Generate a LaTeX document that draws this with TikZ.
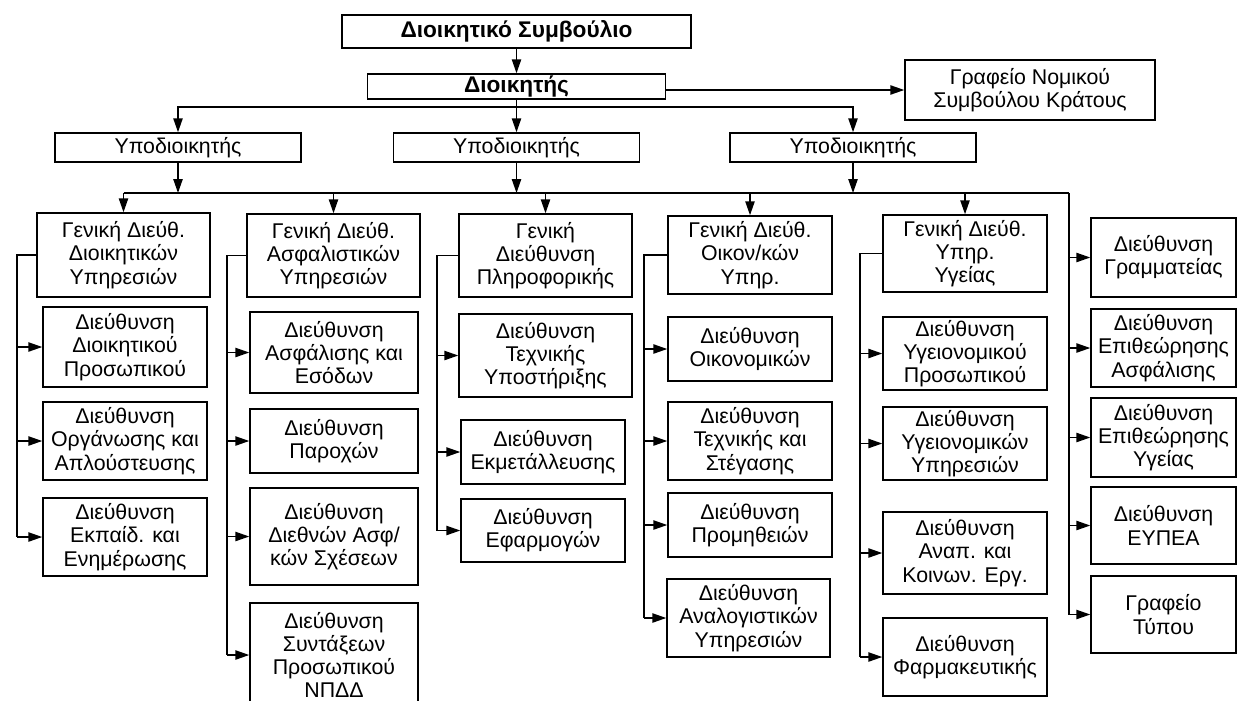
\documentclass[tikz,border=0pt]{standalone}
\usepackage{fontspec}
\setmainfont{Liberation Sans}
\usetikzlibrary{arrows.meta}

\begin{document}
\begin{tikzpicture}[x=0.75pt,y=-0.75pt,line width=1.1pt,
    box/.style={draw,align=center,inner sep=0pt,font=\fontsize{16}{17.4}\selectfont},
    head/.style={box,font=\fontsize{17}{18}\selectfont\bfseries},
    wh/.style 2 args={minimum width=#1*0.75pt,minimum height=#2*0.75pt},
    arr/.style={-{Triangle[length=10.5pt,width=7pt]}}]
                \useasboundingbox (0,0) rectangle (1237,700);
                \clip (0,0) rectangle (1237,700);

                % top levels
                \node[head,wh={349}{33}] (ds) at (516.5,31.5) {Διοικητικό Συμβούλιο};
                \node[head,wh={298}{25}] (dir) at (516.5,86.5) {Διοικητής};
                \node[box,wh={250}{60}] (nom) at (1030,90) {Γραφείο Νομικού\\Συμβούλου Κράτους};
                \node[box,wh={246}{29}] (ud1) at (178,147.5) {Υποδιοικητής};
                \node[box,wh={246}{29}] (ud2) at (516.5,147.5) {Υποδιοικητής};
                \node[box,wh={246}{29}] (ud3) at (853,147.5) {Υποδιοικητής};

                % first column
                \node[box,wh={173}{84}] (gd1) at (123.5,255) {Γενική Διεύθ.\\Διοικητικών\\Υπηρεσιών};
                \node[box,wh={164}{80}] (d11) at (125,347) {Διεύθυνση\\Διοικητικού\\Προσωπικού};
                \node[box,wh={164}{78}] (d12) at (125,441) {Διεύθυνση\\Οργάνωσης και\\Απλούστευσης};
                \node[box,wh={164}{78}] (d13) at (125,537) {Διεύθυνση\\Εκπαίδ. και\\Ενημέρωσης};

                % second column
                \node[box,wh={173}{83}] (gd2) at (333.5,255.5) {Γενική Διεύθ.\\Ασφαλιστικών\\Υπηρεσιών};
                \node[box,wh={168}{81}] (d21) at (334,352.5) {Διεύθυνση\\Ασφάλισης και\\Εσόδων};
                \node[box,wh={168}{64}] (d22) at (334,441) {Διεύθυνση\\Παροχών};
                \node[box,wh={168}{97}] (d23) at (334,536.5) {Διεύθυνση\\Διεθνών Ασφ/\\κών Σχέσεων};
                \node[box,wh={168}{104}] (d24) at (334,655) {Διεύθυνση\\Συντάξεων\\Προσωπικού\\ΝΠΔΔ};

                % third column
                \node[box,wh={173}{83}] (gd3) at (545.5,255.5) {Γενική\\Διεύθυνση\\Πληροφορικής};
                \node[box,wh={173}{83}] (d31) at (545.5,355.5) {Διεύθυνση\\Τεχνικής\\Υποστήριξης};
                \node[box,wh={164}{64}] (d32) at (543,452) {Διεύθυνση\\Εκμετάλλευσης};
                \node[box,wh={164}{63}] (d33) at (543,530.5) {Διεύθυνση\\Εφαρμογών};

                % fourth column
                \node[box,wh={164}{78}] (gd4) at (750,255) {Γενική Διεύθ.\\Οικον/κών\\Υπηρ.};
                \node[box,wh={164}{64}] (d41) at (750,349) {Διεύθυνση\\Οικονομικών};
                \node[box,wh={164}{78}] (d42) at (750,441) {Διεύθυνση\\Τεχνικής και\\Στέγασης};
                \node[box,wh={164}{64}] (d43) at (750,525) {Διεύθυνση\\Προμηθειών};
                \node[box,wh={163}{78}] (d44) at (748.5,618) {Διεύθυνση\\Αναλογιστικών\\Υπηρεσιών};

                % fifth column
                \node[box,wh={164}{77}] (gd5) at (965,253.5) {Γενική Διεύθ.\\Υπηρ.\\Υγείας};
                \node[box,wh={164}{73}] (d51) at (965,353.5) {Διεύθυνση\\Υγειονομικού\\Προσωπικού};
                \node[box,wh={164}{73}] (d52) at (965,443.5) {Διεύθυνση\\Υγειονομικών\\Υπηρεσιών};
                \node[box,wh={164}{82}] (d53) at (965,553) {Διεύθυνση\\Αναπ. και\\Κοινων. Εργ.};
                \node[box,wh={164}{78}] (d54) at (965,657) {Διεύθυνση\\Φαρμακευτικής};

                % right column
                \node[box,wh={145}{79}] (d61) at (1163.5,257.5) {Διεύθυνση\\Γραμματείας};
                \node[box,wh={145}{78}] (d62) at (1163.5,348) {Διεύθυνση\\Επιθεώρησης\\Ασφάλισης};
                \node[box,wh={145}{79}] (d63) at (1163.5,437.5) {Διεύθυνση\\Επιθεώρησης\\Υγείας};
                \node[box,wh={145}{77}] (d64) at (1163.5,525.5) {Διεύθυνση\\ΕΥΠΕΑ};
                \node[box,wh={145}{77}] (d65) at (1163.5,614.5) {Γραφείο\\Τύπου};

                % bus lines and spines
                \coordinate (b1) at (516.5,107);
                \coordinate (b2w) at (123.5,193);
                \coordinate (b2e) at (1069,193);
                \coordinate (s1) at (17,537);
                \coordinate (s2) at (227,655);
                \coordinate (s3) at (437,530.5);
                \coordinate (s4) at (644,618);
                \coordinate (s5) at (860,657);
                \coordinate (s6) at (1069,614.5);

                \draw[arr] (ds) -- (dir);
                \draw[arr] (dir.east |- nom.west) -- (nom.west);
                \draw[arr] (dir) -- (ud2);
                \draw[arr] (b1) -| (ud1);
                \draw[arr] (b1) -| (ud3);
                \draw[arr] (ud1) -- (ud1 |- b2w);
                \draw[arr] (ud2) -- (ud2 |- b2w);
                \draw[arr] (ud3) -- (ud3 |- b2w);
                \draw (b2w) -- (b2e);
                \draw[arr] (gd1 |- b2w) -- (gd1);
                \draw[arr] (gd2 |- b2w) -- (gd2);
                \draw[arr] (gd3 |- b2w) -- (gd3);
                \draw[arr] (gd4 |- b2w) -- (gd4);
                \draw[arr] (gd5 |- b2w) -- (gd5);

                \draw (gd1.west) -| (s1);
                \draw[arr] (s1 |- d11.west) -- (d11.west);
                \draw[arr] (s1 |- d12.west) -- (d12.west);
                \draw[arr] (s1 |- d13.west) -- (d13.west);

                \draw (gd2.west) -| (s2);
                \draw[arr] (s2 |- d21.west) -- (d21.west);
                \draw[arr] (s2 |- d22.west) -- (d22.west);
                \draw[arr] (s2 |- d23.west) -- (d23.west);
                \draw[arr] (s2 |- d24.west) -- (d24.west);

                \draw (gd3.west) -| (s3);
                \draw[arr] (s3 |- d31.west) -- (d31.west);
                \draw[arr] (s3 |- d32.west) -- (d32.west);
                \draw[arr] (s3 |- d33.west) -- (d33.west);

                \draw (gd4.west) -| (s4);
                \draw[arr] (s4 |- d41.west) -- (d41.west);
                \draw[arr] (s4 |- d42.west) -- (d42.west);
                \draw[arr] (s4 |- d43.west) -- (d43.west);
                \draw[arr] (s4 |- d44.west) -- (d44.west);

                \draw (gd5.west) -| (s5);
                \draw[arr] (s5 |- d51.west) -- (d51.west);
                \draw[arr] (s5 |- d52.west) -- (d52.west);
                \draw[arr] (s5 |- d53.west) -- (d53.west);
                \draw[arr] (s5 |- d54.west) -- (d54.west);

                \draw (b2e) -- (s6);
                \draw[arr] (s6 |- d61.west) -- (d61.west);
                \draw[arr] (s6 |- d62.west) -- (d62.west);
                \draw[arr] (s6 |- d63.west) -- (d63.west);
                \draw[arr] (s6 |- d64.west) -- (d64.west);
                \draw[arr] (s6 |- d65.west) -- (d65.west);
            \end{tikzpicture}
\end{document}
